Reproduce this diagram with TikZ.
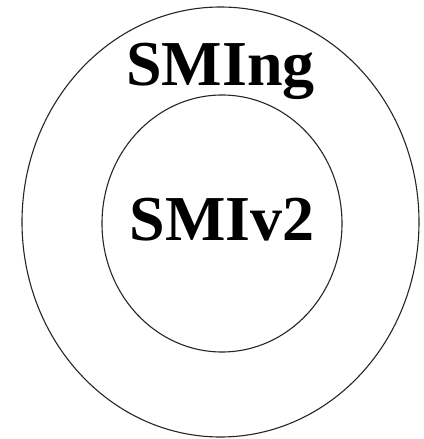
\documentclass[tikz,border=0pt]{standalone}
\usepackage{fontspec}
\setmainfont{Liberation Serif}
\begin{document}
\begin{tikzpicture}[x=1pt,y=-1pt,
  ring/.style={draw=black!85,line width=1.1pt},
  lbl/.style={font=\fontsize{64}{64}\selectfont\bfseries,inner sep=0pt,anchor=base}]
\useasboundingbox (0,0) rectangle (423,439);
\fill[white] (0,0) rectangle (423,439);
\draw[ring] (220.5,222) ellipse [x radius=198.5, y radius=215];
\draw[ring] (222,223.5) ellipse [x radius=120, y radius=128.5];
\node[lbl] (ng) at (220.5,85) {SMIng};
\node[lbl] (v2) at (222,240) {SMIv2};
\end{tikzpicture}
\end{document}
